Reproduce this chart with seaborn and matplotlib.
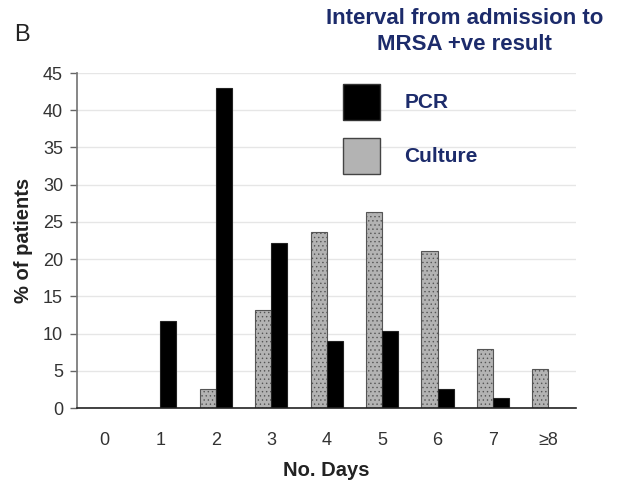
import matplotlib

matplotlib.use("Agg")

import matplotlib.pyplot as plt
import pandas as pd
import seaborn as sns
from matplotlib.patches import Patch
from matplotlib.ticker import FixedLocator

DAYS = ["0", "1", "2", "3", "4", "5", "6", "7", "≥8"]
PCR = [0, 11.7, 43.0, 22.2, 9.0, 10.3, 2.6, 1.3, 0]
CULTURE = [0, 0, 2.6, 13.2, 23.7, 26.3, 21.1, 7.9, 5.3]

NAVY = "#1c2b6b"
GREY = "#b3b3b3"


def main():
    sns.set_theme(style="white")
    plt.rcParams["font.family"] = ["Liberation Sans", "DejaVu Sans"]
    plt.rcParams["hatch.linewidth"] = 0.5

    df = pd.concat([
        pd.DataFrame({"day": DAYS, "method": "Culture", "pct": CULTURE}),
        pd.DataFrame({"day": DAYS, "method": "PCR", "pct": PCR}),
    ])

    fig = plt.figure(figsize=(6.24, 4.82), dpi=100)
    ax = fig.add_axes([0.1234, 0.1535, 0.8, 0.695])

    sns.barplot(data=df, x="day", y="pct", hue="method", order=DAYS,
                hue_order=["Culture", "PCR"], palette={"Culture": GREY, "PCR": "black"},
                width=0.58, edgecolor="#222222", linewidth=0.8, legend=False, ax=ax)

    for bar in ax.containers[0]:
        bar.set_hatch("....")
        bar.set_edgecolor("#555555")

    ax.set_ylim(0, 45)
    ax.set_xlim(-0.5, len(DAYS) - 0.5)
    ax.set_yticks(range(0, 50, 5))
    ax.yaxis.grid(True, color="#e6e6e6", linewidth=1)
    ax.set_axisbelow(True)

    ax.xaxis.set_minor_locator(FixedLocator([i - 0.5 for i in range(len(DAYS) + 1)]))
    ax.tick_params(axis="x", which="major", length=0, pad=17, labelsize=13, colors="#333333")
    ax.tick_params(axis="x", which="minor", length=5, width=1.2, color="#222222", direction="out")
    ax.tick_params(axis="y", length=5, width=1, color="#666666", direction="out", pad=5,
                   labelsize=13, labelcolor="#333333", left=True)

    for side in ["top", "right"]:
        ax.spines[side].set_visible(False)
    ax.spines["left"].set_color("#777777")
    ax.spines["bottom"].set_color("#222222")
    ax.spines["bottom"].set_linewidth(1.2)

    ax.set_xlabel("No. Days", fontsize=14.5, fontweight="bold", color="#222222", labelpad=9)
    ax.set_ylabel("% of patients", fontsize=14.5, fontweight="bold", color="#222222", labelpad=7)

    handles = [
        Patch(facecolor="black", edgecolor="#333333", label="PCR"),
        Patch(facecolor=GREY, edgecolor="#444444", label="Culture"),
    ]
    leg = fig.legend(handles=handles, loc="upper left", bbox_to_anchor=(0.52, 0.865),
                     frameon=False, handlelength=1.78, handleheight=2.29, handletextpad=1.15,
                     labelspacing=0.85, prop={"size": 15, "weight": "bold"})
    for text in leg.get_texts():
        text.set_color(NAVY)

    fig.text(0.745, 0.934, "Interval from admission to\nMRSA +ve result", ha="center", va="center",
             fontsize=16, fontweight="bold", color=NAVY, linespacing=1.3)
    fig.text(0.023, 0.928, "B", fontsize=17, color="#222222", va="center")

    fig.savefig("out.png", dpi=100)
    plt.close(fig)


if __name__ == "__main__":
    main()
